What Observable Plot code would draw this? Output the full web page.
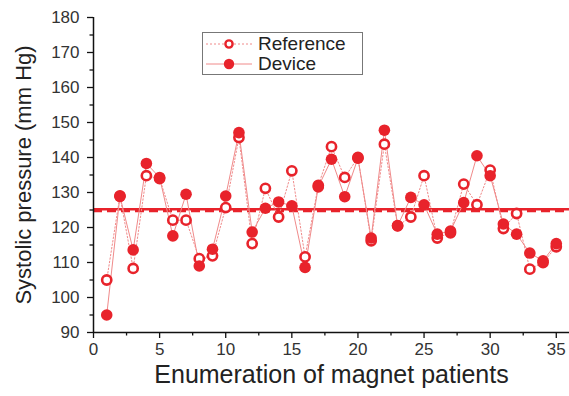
<!DOCTYPE html>
<html><head><meta charset="utf-8">
<script src="https://cdn.jsdelivr.net/npm/d3@7"></script>
<script src="https://cdn.jsdelivr.net/npm/@observablehq/plot@0.6"></script>
<style>
body{margin:0;background:#fff;}
#wrap{position:relative;width:569px;height:396px;overflow:hidden;}
#legend{position:absolute;left:202px;top:32px;width:161px;height:43px;border:1px solid #777;box-sizing:border-box;background:#fff;font-family:"Liberation Sans",Arial,sans-serif;font-size:19px;color:#222;}
#legend .row{position:absolute;left:2px;height:20px;display:flex;align-items:center;}
#legend .row span{margin-left:5px;line-height:20px;}
</style></head><body>
<div id="wrap"><div id="chart"></div><div id="legend"></div></div>
<script>
const patients = [1,2,3,4,5,6,7,8,9,10,11,12,13,14,15,16,17,18,19,20,21,22,23,24,25,26,27,28,29,30,31,32,33,34,35];
const reference = [105.0,129.0,108.3,134.8,134.0,122.1,122.1,111.1,111.9,125.7,145.7,115.4,131.2,123.0,136.2,111.6,132.0,143.1,134.3,140.0,116.2,143.8,120.5,123.0,134.8,117.0,118.5,132.4,126.5,136.4,119.7,124.0,108.1,110.0,114.5];
const device = [95.0,128.9,113.6,138.3,134.3,117.6,129.5,109.0,113.8,129.0,147.1,118.7,125.5,127.3,126.2,108.6,131.6,139.5,128.8,139.8,117.0,147.8,120.5,128.6,126.5,118.1,119.0,127.1,140.5,134.8,121.0,118.1,112.7,110.5,115.4];
const meanDevice = 125.2;
const meanReference = 124.7;
const seriesNames = ["Reference", "Device"];
const xTicks = [0,5,10,15,20,25,30,35];
const xMinor = [2.5,7.5,12.5,17.5,22.5,27.5,32.5];
const yTicks = [90,100,110,120,130,140,150,160,170,180];
const yMinor = [95,105,115,125,135,145,155,165,175];
const xLabel = "Enumeration of magnet patients";
const yLabel = "Systolic pressure (mm Hg)";

const red = "#e8232b";
const lineRed = "#f08a8a";
const font = "Liberation Sans, Arial, sans-serif";

const refData = patients.map((p,i)=>({p, v: reference[i]}));
const devData = patients.map((p,i)=>({p, v: device[i]}));

const chart = Plot.plot({
  width: 569, height: 396,
  marginLeft: 93, marginRight: 0, marginTop: 17, marginBottom: 64,
  style: {fontFamily: font, background: "#fff", overflow: "visible"},
  x: {domain: [0, 36]},
  y: {domain: [90, 180]},
  marks: [
    Plot.ruleY([meanReference], {stroke: red, strokeWidth: 2.5, strokeDasharray: "9,5"}),
    Plot.ruleY([meanDevice], {stroke: red, strokeWidth: 2.5}),
    Plot.line(refData, {x: "p", y: "v", stroke: lineRed, strokeWidth: 1, strokeDasharray: "1.5,2"}),
    Plot.line(devData, {x: "p", y: "v", stroke: lineRed, strokeWidth: 1}),
    Plot.dot(refData, {x: "p", y: "v", r: 4.6, fill: "white", stroke: red, strokeWidth: 2.6}),
    Plot.dot(devData, {x: "p", y: "v", r: 5.8, fill: red, stroke: "none"}),
    Plot.axisX(xMinor, {tickSize: 3.5, tickFormat: () => "", label: null, stroke: "#111", strokeWidth: 1.3}),
    Plot.axisX(xTicks, {tickSize: 6, tickPadding: 4, label: null, stroke: "#111", strokeWidth: 1.3, fill: "#333", fontSize: 17}),
    Plot.axisY(yMinor, {tickSize: 3.5, tickFormat: () => "", label: null, stroke: "#111", strokeWidth: 1.3}),
    Plot.axisY(yTicks, {tickSize: 6, tickPadding: 8, label: null, stroke: "#111", strokeWidth: 1.3, fill: "#333", fontSize: 17}),
    Plot.ruleX([0], {stroke: "#111", strokeWidth: 1.5}),
    Plot.ruleY([90], {stroke: "#111", strokeWidth: 1.5}),
    Plot.text([xLabel], {text: d => d, frameAnchor: "bottom", textAnchor: "middle", dy: 50, fontSize: 25, fill: "#222"}),
    Plot.text([yLabel], {text: d => d, frameAnchor: "left", textAnchor: "middle", dx: -70, rotate: -90, fontSize: 22, fill: "#222"})
  ]
});
document.getElementById("chart").appendChild(chart);

const legend = document.getElementById("legend");
const styles = [
  {dash: "2,2", marker: `<circle cx="24" cy="10" r="3.6" fill="white" stroke="${red}" stroke-width="2.4"/>`},
  {dash: "", marker: `<circle cx="24" cy="10" r="5.2" fill="${red}"/>`}
];
seriesNames.forEach((name, i) => {
  const row = document.createElement("div");
  row.className = "row";
  row.style.top = (1 + i * 20) + "px";
  row.innerHTML = `<svg width="48" height="20"><line x1="1" x2="47" y1="10" y2="10" stroke="${lineRed}" stroke-width="1" ${styles[i].dash ? `stroke-dasharray="${styles[i].dash}"` : ""}/>${styles[i].marker}</svg><span>${name}</span>`;
  legend.appendChild(row);
});
</script>
</body></html>
